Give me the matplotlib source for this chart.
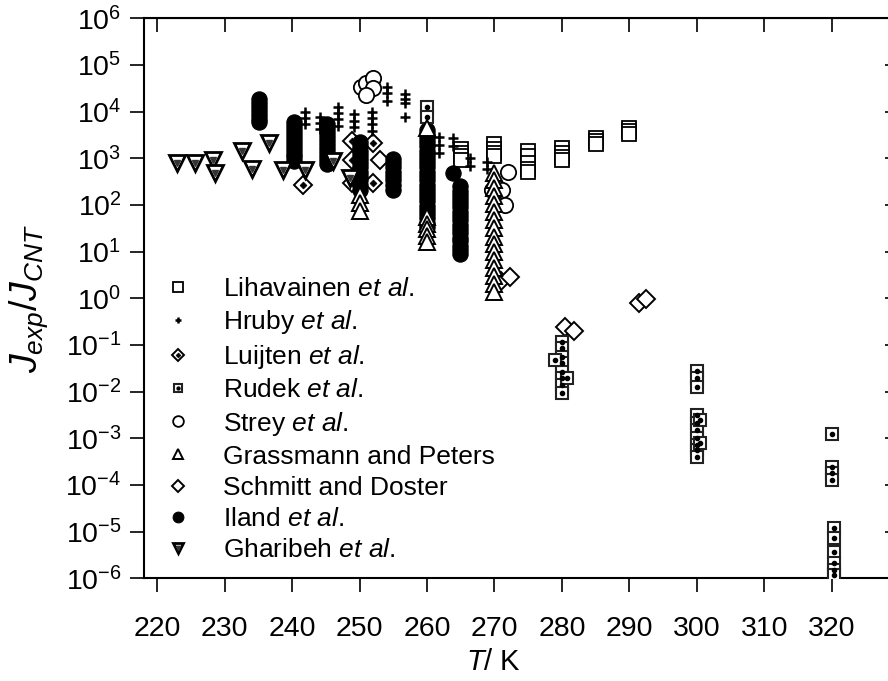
import numpy as np
import matplotlib
matplotlib.use('Agg')
import matplotlib.pyplot as plt
from matplotlib.legend_handler import HandlerTuple
from matplotlib.ticker import LogLocator, NullLocator, LogFormatterSciNotation, FixedLocator

plt.rcParams['font.family'] = ['Liberation Sans', 'DejaVu Sans']
plt.rcParams['mathtext.fontset'] = 'custom'
plt.rcParams['mathtext.rm'] = 'Liberation Sans'
plt.rcParams['mathtext.it'] = 'Liberation Sans:italic'
plt.rcParams['mathtext.bf'] = 'Liberation Sans:bold'

# ---------------- data ----------------
lihavainen_T = [265]*4 + [270]*4 + [275]*5 + [280]*4 + [285]*3 + [290]*3
lihavainen_J = [1600, 1300, 1100, 900,
                2050, 1600, 1300, 1100,
                1450, 1100, 800, 600, 520,
                1650, 1300, 1050, 920,
                2750, 2400, 2050,
                4500, 3900, 3300]

hruby_T = ([241.9]*3 + [244.1]*3 + [246.8]*4 + [249.1]*3 + [251.8]*4 + [254.0]*3
           + [256.7]*4 + [261.7]*3 + [263.8]*2 + [266.4]*2 + [268.9]*2)
hruby_J = [9800, 7200, 5400,
           7800, 5800, 4300,
           12600, 9300, 6900, 4900,
           8900, 6300, 4700,
           9800, 7200, 5400, 3900,
           34000, 25000, 17000,
           24000, 19000, 15000, 7800,
           2900, 1950, 1300,
           2700, 1800,
           1000, 700,
           850, 600]

luijten_T = [241.6, 248.8, 248.8, 248.8, 252.0, 252.0]
luijten_J = [270, 2300, 920, 290, 2100, 290]

rudek_T = ([260, 260] + [280]*8 + [279.0, 280.7] + [300]*10 + [300.5, 300.5]
           + [320]*4 + [320.3]*6)
rudek_J = [12500, 7800,
           0.117, 0.085, 0.056, 0.041, 0.027, 0.0195, 0.0138, 0.0093,
           0.048, 0.0195,
           0.028, 0.0195, 0.0123, 0.0032, 0.0021, 0.0015, 0.0010, 0.00072, 0.00056, 0.00039,
           0.0025, 0.0008,
           1.23e-3, 2.45e-4, 1.8e-4, 1.3e-4,
           1.17e-5, 7.2e-6, 3.7e-6, 2.1e-6, 1.5e-6, 1.17e-6]

strey_T = [250.2, 250.9, 252.0, 252.0, 251.0, 269.6, 271.1, 271.6, 272.0]
strey_J = [34000, 40700, 51800, 31600, 22700, 210, 210, 100, 500]

grassmann_T = [250]*3 + [260]*6 + [270]*16
grassmann_J = [160, 110, 75,
               4500, 55, 40, 30, 22, 16,
               480, 340, 230, 155, 105, 71, 48, 32, 21, 14.5, 9.8, 6.6, 4.5, 3.0, 2.0, 1.35]

schmitt_T = [253.0, 270.9, 272.3, 280.45, 281.8, 291.5, 292.5]
schmitt_J = [920, 2.3, 2.8, 0.245, 0.2, 0.78, 0.95]

iland_T = [235.1]*7 + [240.2]*11 + [245.1]*11 + [250.0]*12 + [255.0]*8 + [260.0]*24 + [264.9]*17 + [263.9]
iland_J = [18600, 15100, 12600, 10200, 8500, 7100, 6000,
           6000, 4900, 4000, 3300, 2700, 2200, 1800, 1500, 1250, 1050, 870,
           5500, 4500, 3700, 3000, 2500, 2000, 1650, 1350, 1100, 900, 760,
           2200, 1800, 1450, 1200, 950, 780, 640, 520, 420, 340, 270, 210,
           950, 780, 640, 520, 420, 340, 270, 210,
           4000, 3300, 2700, 2200, 1800, 1450, 1200, 950, 780, 640, 520, 420,
           340, 270, 220, 180, 145, 120, 95, 78, 64, 52, 42, 34,
           250, 200, 165, 135, 110, 90, 72, 58, 47, 38, 31, 25, 20, 16.5, 13.5, 11, 9,
           480]

gharibeh_T = [222.9, 225.6, 228.2, 228.6, 232.5, 234.0, 236.5, 238.7, 241.9, 246.1, 248.6]
gharibeh_J = [780, 800, 920, 480, 1430, 580, 2140, 560, 560, 890, 370]

labels = ['Lihavainen $\\mathit{et\\ al.}$', 'Hruby $\\mathit{et\\ al.}$', 'Luijten $\\mathit{et\\ al.}$',
          'Rudek $\\mathit{et\\ al.}$', 'Strey $\\mathit{et\\ al.}$', 'Grassmann and Peters',
          'Schmitt and Doster', 'Iland $\\mathit{et\\ al.}$', 'Gharibeh $\\mathit{et\\ al.}$']

x_ticks = [220, 230, 240, 250, 260, 270, 280, 290, 300, 310, 320]

# ---------------- figure ----------------
W, H = 888, 681
fig = plt.figure(figsize=(W/100, H/100), dpi=100)
axl, axr, axt, axb = 143.8, 899.1, 18.3, 578.3
ax = fig.add_axes([axl/W, 1-axb/H, (axr-axl)/W, (axb-axt)/H])
ax.set_yscale('log')
ax.set_xlim(218, 330)
ax.set_ylim(1e-6, 1e6)

K = 'black'
st_open = dict(linestyle='none', mfc='white', mec=K)

h_lih, = ax.plot(lihavainen_T, lihavainen_J, marker='s', ms=9.5, mew=1.3, **st_open, zorder=3)
h_lui1, = ax.plot(luijten_T, luijten_J, marker='D', ms=9, mew=1.4, **st_open, zorder=3)
h_lui2, = ax.plot(luijten_T, luijten_J, marker='D', ms=3.5, linestyle='none', mfc=K, mec=K, mew=0.5, zorder=3)
h_sch, = ax.plot(schmitt_T, schmitt_J, marker='D', ms=9, mew=1.4, **st_open, zorder=3)
h_ila, = ax.plot(iland_T, iland_J, marker='o', ms=11, linestyle='none', mfc=K, mec=K, mew=0.8, zorder=4)
h_hru, = ax.plot(hruby_T, hruby_J, marker='+', ms=7, mew=1.8, linestyle='none', color=K, zorder=5)
h_rud1, = ax.plot(rudek_T, rudek_J, marker='s', ms=9, mew=1.5, linestyle='none', mfc='white', mec='#222222', zorder=5)
h_rud2, = ax.plot(rudek_T, rudek_J, marker='o', ms=3, linestyle='none', mfc=K, mec=K, zorder=5)
h_str, = ax.plot(strey_T, strey_J, marker='o', ms=11, mew=1.3, **st_open, zorder=5)
h_gra, = ax.plot(grassmann_T, grassmann_J, marker='^', ms=11, mew=1.4, **st_open, zorder=6)
h_gha1, = ax.plot(gharibeh_T, gharibeh_J, marker='v', ms=11, mew=2.0, **st_open, zorder=6)
h_gha2, = ax.plot(gharibeh_T, gharibeh_J, marker='v', ms=4.5, linestyle='none', mfc='#333333', mec='#333333', zorder=6)

# ticks
ax.xaxis.set_major_locator(FixedLocator(x_ticks))
ax.yaxis.set_major_locator(LogLocator(base=10, numticks=20))
ax.yaxis.set_major_formatter(LogFormatterSciNotation())
ax.yaxis.set_minor_locator(NullLocator())
ax.tick_params(axis='both', which='major', direction='out', length=10, width=1.2,
               labelsize=20.5, top=False, right=False)
ax.tick_params(axis='x', pad=17)
ax.tick_params(axis='y', pad=6)
for s in ax.spines.values():
    s.set_linewidth(1.5)

sx = ax.secondary_xaxis('top')
sx.xaxis.set_major_locator(FixedLocator(x_ticks))
sx.tick_params(direction='in', length=10, width=1.2, labeltop=False)
sy = ax.secondary_yaxis('right')
sy.yaxis.set_major_locator(LogLocator(base=10, numticks=20))
sy.yaxis.set_minor_locator(NullLocator())
sy.tick_params(direction='in', length=10, width=1.2, labelright=False)

ax.set_xlabel('$T$/ K', fontsize=21)
ax.xaxis.set_label_coords((494-axl)/(axr-axl), -(648-axb)/(axb-axt))
ax.set_ylabel('$J_{exp}/J_{CNT}$', fontsize=27)
ax.yaxis.set_label_coords((50-axl)/(axr-axl), 0.5)

handles = [h_lih, h_hru, (h_lui1, h_lui2), (h_rud1, h_rud2), h_str, h_gra, h_sch, h_ila, (h_gha1, h_gha2)]
leg = ax.legend(handles, labels, loc='upper left', bbox_to_anchor=(164.6/W, 1-277/H),
                bbox_transform=fig.transFigure, frameon=False, fontsize=19,
                handlelength=1.0, handletextpad=1.2, labelspacing=0.27, borderpad=0,
                borderaxespad=0, markerscale=0.7,
                handler_map={tuple: HandlerTuple(ndivide=1, pad=0)})

fig.savefig('out.png', dpi=100)
